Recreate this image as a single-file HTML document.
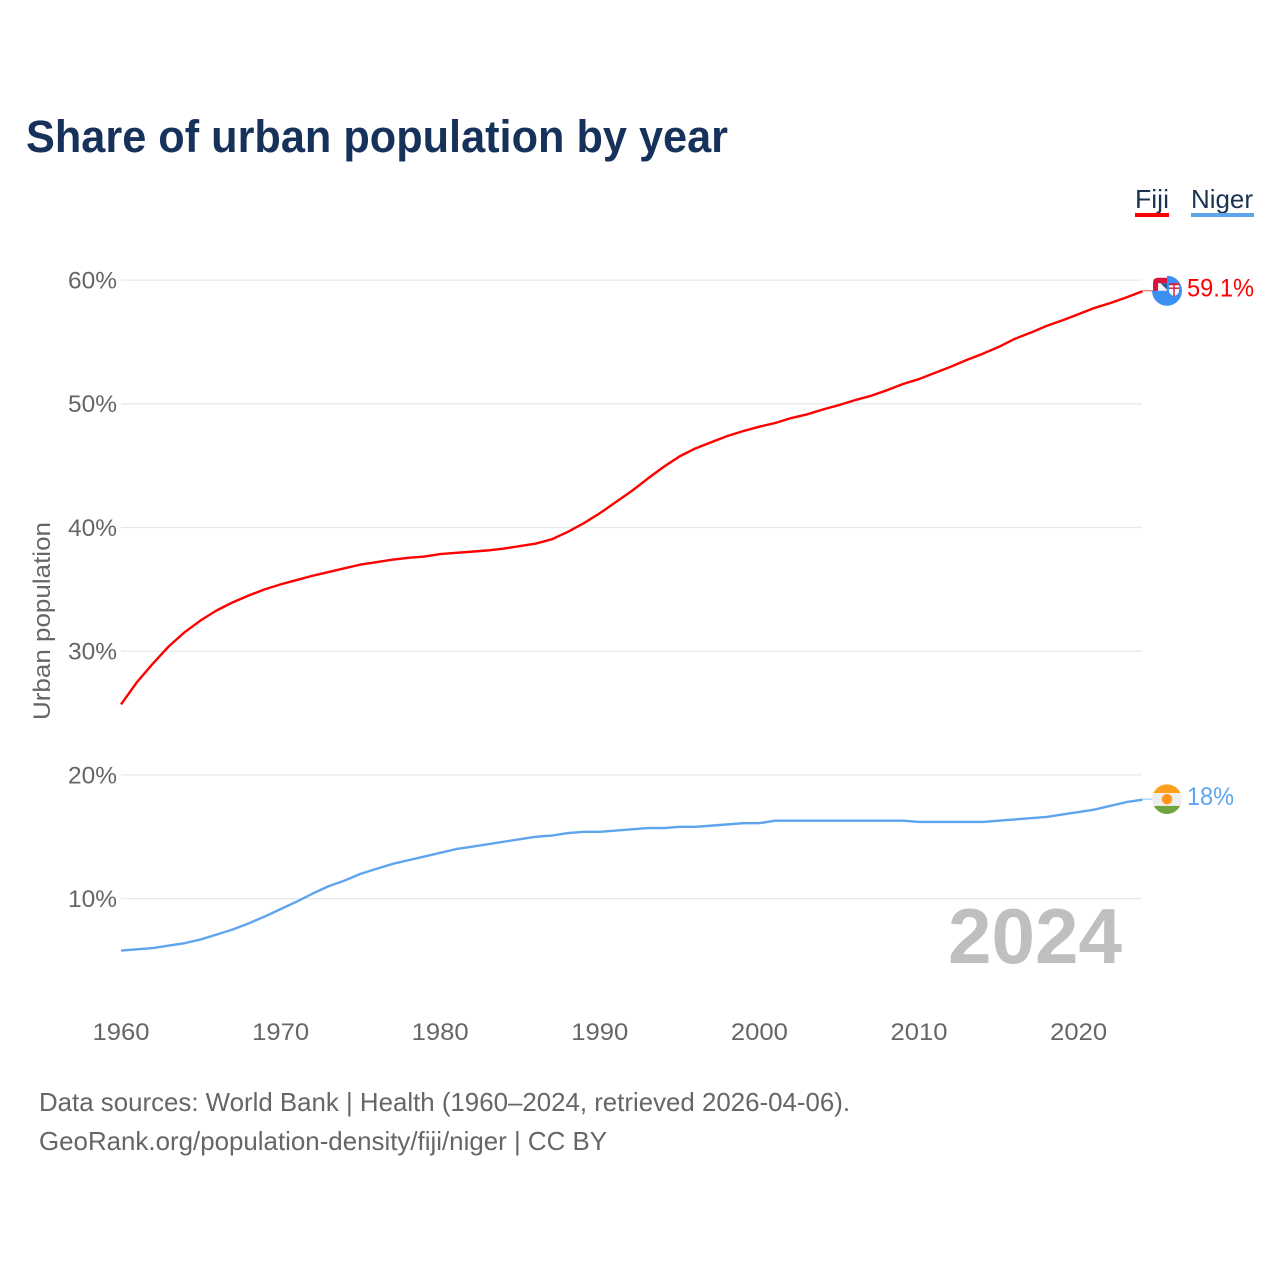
<!DOCTYPE html>
<html lang="en">
<head>
<meta charset="utf-8">
<title>Share of urban population by year</title>
<style>
html,body{margin:0;padding:0;background:#fff;}
svg{display:block;font-family:"Liberation Sans",Arial,sans-serif;}
</style>
</head>
<body>
<svg id="chart" xmlns="http://www.w3.org/2000/svg" width="1280" height="1280" viewBox="0 0 1280 1280">
  <rect width="1280" height="1280" fill="#fff"/>
  <text x="26" y="152" font-size="45" font-weight="700" fill="#17325a" textLength="702" lengthAdjust="spacingAndGlyphs">Share of urban population by year</text>

  <g>
    <g>
      <text x="1135" y="208" font-size="26" fill="#1a3353" textLength="34" lengthAdjust="spacingAndGlyphs">Fiji</text>
      <rect x="1135" y="213" width="34" height="4" fill="#ff0000"/>
    </g>
    <g>
      <text x="1191" y="208" font-size="26" fill="#1a3353" textLength="62" lengthAdjust="spacingAndGlyphs">Niger</text>
      <rect x="1191" y="213" width="63" height="4" fill="#5fa5ee"/>
    </g>
  </g>

  <g id="grid"></g>
  <g id="yticks"></g>
  <g id="xticks"></g>
  <text transform="translate(50,621) rotate(-90)" text-anchor="middle" font-size="24" fill="#666" textLength="198" lengthAdjust="spacingAndGlyphs">Urban population</text>

  <text x="948" y="963" font-size="78" font-weight="700" fill="#bfbfbf" textLength="174" lengthAdjust="spacingAndGlyphs">2024</text>

  <g id="series"></g>

  <g id="flag-fiji">
    <path d="M-14,2 L-14,-8 Q-14,-13 -9,-13 L1,-13 L1,2 Z" fill="#d8143c"/>
    <rect x="-9" y="-7.5" width="9" height="8" fill="#f4f4f4"/>
    <path d="M-6.5,-7.5 L0,-7.5 L0,-1 Z" fill="#2a5a9a"/>
    <path d="M0,-15 A15,15 0 1 1 -15,0 L-0.5,0 L0,-0.5 Z" fill="#3b8ff0"/>
    <path d="M2,-7.5 H12 V0 Q12,3.5 7,5.5 Q2,3.5 2,0 Z" fill="#fff"/>
    <path d="M2,-2.5 H12 M7,-7.5 V5.5" stroke="#d8143c" stroke-width="1.4" fill="none"/>
    <rect x="2" y="-7.5" width="10" height="2" fill="#d8143c"/>
  </g>
  <g id="flag-niger">
    <clipPath id="niger-clip"><circle cx="0" cy="0" r="14.8"/></clipPath>
    <g clip-path="url(#niger-clip)">
      <rect x="-15" y="-15" width="30" height="9" fill="#ff9f1c"/>
      <rect x="-15" y="-6" width="30" height="12.8" fill="#eeeeee"/>
      <rect x="-15" y="6.8" width="30" height="9" fill="#6fa53f"/>
      <circle cx="0" cy="0" r="5.2" fill="#ff9416"/>
    </g>
  </g>
  <g id="end-labels"></g>

  <g>
    <text x="39" y="1111" font-size="26" fill="#666" textLength="811" lengthAdjust="spacingAndGlyphs">Data sources: World Bank | Health (1960–2024, retrieved 2026-04-06).</text>
    <text x="39" y="1150" font-size="26" fill="#666" textLength="568" lengthAdjust="spacingAndGlyphs">GeoRank.org/population-density/fiji/niger | CC BY</text>
  </g>
</svg>

<script>
const startYear = 1960;
const yTickValues = [10, 20, 30, 40, 50, 60];
const xTickYears = [1960, 1970, 1980, 1990, 2000, 2010, 2020];
const fijiValues = [25.7, 27.5, 29.0, 30.4, 31.55, 32.5, 33.3, 33.95, 34.5, 35.0,
  35.4, 35.75, 36.1, 36.4, 36.7, 37.0, 37.2, 37.4, 37.55, 37.65,
  37.85, 37.95, 38.05, 38.15, 38.3, 38.5, 38.7, 39.05, 39.65, 40.35,
  41.15, 42.05, 42.95, 43.95, 44.9, 45.75, 46.4, 46.9, 47.4, 47.8,
  48.15, 48.45, 48.85, 49.15, 49.55, 49.9, 50.3, 50.65, 51.1, 51.6,
  52.0, 52.5, 53.0, 53.55, 54.05, 54.6, 55.25, 55.75, 56.3, 56.75,
  57.25, 57.75, 58.15, 58.6, 59.1];
const nigerValues = [5.8, 5.9, 6.0, 6.2, 6.4, 6.7, 7.1, 7.5, 8.0, 8.55,
  9.15, 9.75, 10.4, 11.0, 11.45, 12.0, 12.4, 12.8, 13.1, 13.4,
  13.7, 14.0, 14.2, 14.4, 14.6, 14.8, 15.0, 15.1, 15.3, 15.4,
  15.4, 15.5, 15.6, 15.7, 15.7, 15.8, 15.8, 15.9, 16.0, 16.1,
  16.1, 16.3, 16.3, 16.3, 16.3, 16.3, 16.3, 16.3, 16.3, 16.3,
  16.2, 16.2, 16.2, 16.2, 16.2, 16.3, 16.4, 16.5, 16.6, 16.8,
  17.0, 17.2, 17.5, 17.8, 18.0];

const NS = 'http://www.w3.org/2000/svg';
function xScale(year) { return 121 + (year - 1960) * 15.96; }
function yScale(value) { return 898.6 - (value - 10) * 12.37; }
function make(tag, parent, attrs, text) {
  const el = document.createElementNS(NS, tag);
  for (const k in attrs) el.setAttribute(k, attrs[k]);
  if (text !== undefined) el.textContent = text;
  parent.appendChild(el);
  return el;
}

const gridLayer = document.getElementById('grid');
const yLayer = document.getElementById('yticks');
const xLayer = document.getElementById('xticks');
const seriesLayer = document.getElementById('series');
const labelLayer = document.getElementById('end-labels');

yTickValues.forEach(function (v) {
  const line = make('line', gridLayer, {x1: 121, x2: 1142, y1: yScale(v), y2: yScale(v), stroke: '#e8e8e8', 'stroke-width': 1.3});
  
  
  const tick = make('text', yLayer, {x: 117, y: yScale(v) + 8.4, 'text-anchor': 'end', 'font-size': 24, fill: '#666', textLength: 49, lengthAdjust: 'spacingAndGlyphs'}, v + '%');
  
  
});

xTickYears.forEach(function (yr) {
  const tick = make('text', xLayer, {x: xScale(yr), y: 1040, 'text-anchor': 'middle', 'font-size': 24, fill: '#666', textLength: 57, lengthAdjust: 'spacingAndGlyphs'}, String(yr));
  
  
});

function drawSeries(values, colour, key, width, labelLen) {
  const pts = values.map(function (v, i) { return xScale(startYear + i).toFixed(2) + ',' + yScale(v).toFixed(2); });
  const path = make('polyline', seriesLayer, {points: pts.join(' '), fill: 'none', stroke: colour, 'stroke-width': width, 'stroke-linejoin': 'round'});
  
  
  const last = values[values.length - 1];
  const endX = xScale(startYear + values.length - 1);
  const endY = yScale(last) - 0.5;
  const conn = make('line', seriesLayer, {x1: endX, x2: 1153, y1: endY, y2: endY, stroke: colour, 'stroke-width': 1, opacity: 0.7});
  
  
  document.getElementById('flag-' + key).setAttribute('transform', 'translate(1167,' + endY.toFixed(2) + ')');
  const label = make('text', labelLayer, {x: 1187, y: endY + 5.8, 'font-size': 25, fill: colour, textLength: labelLen, lengthAdjust: 'spacingAndGlyphs'}, last + '%');
  
  
}
drawSeries(fijiValues, '#ff0000', 'fiji', 2.4, 67);
drawSeries(nigerValues, '#5fa5ee', 'niger', 2.4, 47);
</script>
</body>
</html>
